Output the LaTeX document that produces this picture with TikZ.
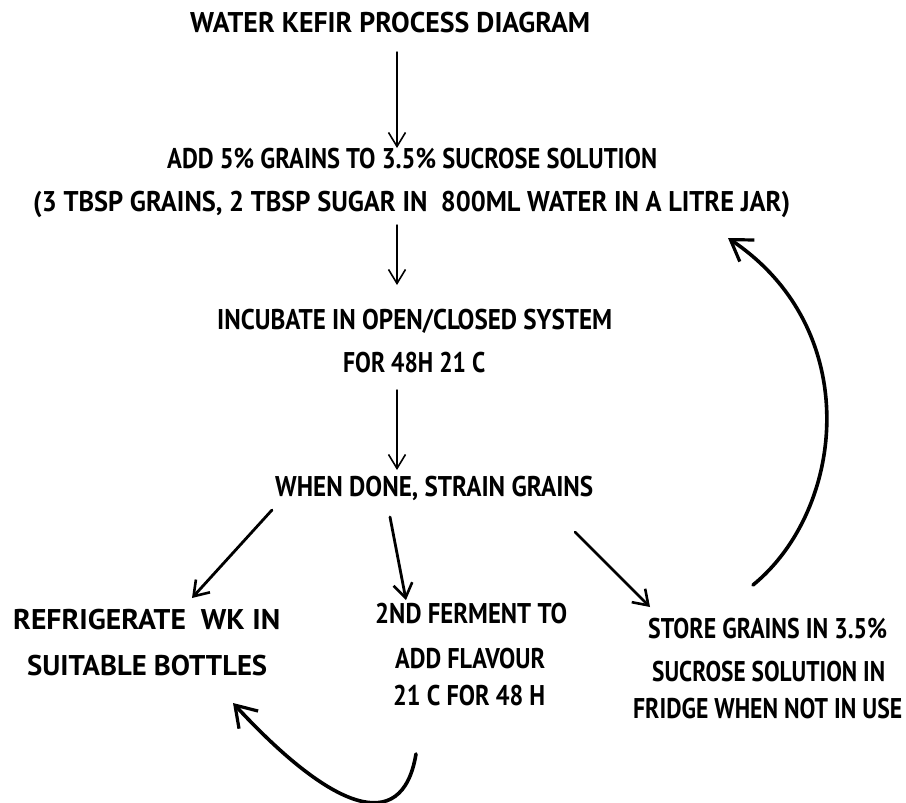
\documentclass[tikz,border=0pt]{standalone}
\usepackage{fontspec}
\usepackage{graphicx}
\newfontfamily\hand{PT Sans Bold}
\newcommand\fw[2]{\resizebox{#1pt}{\height}{#2}}
\usetikzlibrary{arrows.meta}
\begin{document}
\begin{tikzpicture}[x=1pt,y=-1pt,line cap=round,
  lbl/.style={font=\hand\fontsize{28.5}{30}\selectfont, inner sep=0pt, anchor=base west, text=black},
  thinarrow/.style={line width=1.4pt, -{Straight Barb[length=14pt,width=17pt,line width=1.6pt]}},
  midarrow/.style={line width=2.8pt, -{Straight Barb[length=14pt,width=19pt,line width=2.6pt]}},
  bigarrow/.style={line width=3.6pt, -{Straight Barb[length=20pt,width=26pt,line width=3.2pt]}}]
\path[fill=white] (0,0) rectangle (906,803);
\useasboundingbox (0,0) rectangle (906,803);

\node[lbl] (title) at (190,32) {\fw{400}{WATER KEFIR PROCESS DIAGRAM}};
\node[lbl] (add) at (167,168) {\fw{490}{ADD 5\% GRAINS TO 3.5\% SUCROSE SOLUTION}};
\node[lbl] (paren) at (33,211) {\fw{757}{(3 TBSP GRAINS, 2 TBSP SUGAR IN\ \ 800ML WATER IN A LITRE JAR)}};
\node[lbl] (incubate) at (217,329) {\fw{395}{INCUBATE IN OPEN/CLOSED SYSTEM}};
\node[lbl] (for48) at (343,372) {\fw{142}{FOR 48H 21 C}};
\node[lbl] (strain) at (275,496) {\fw{318}{WHEN DONE, STRAIN GRAINS}};
\node[lbl] (refrig) at (13,629) {\fw{267}{REFRIGERATE\ \ WK IN}};
\node[lbl] (bottles) at (27,675) {\fw{240}{SUITABLE BOTTLES}};
\node[lbl] (second) at (375,623) {\fw{192}{2ND FERMENT TO}};
\node[lbl] (flavour) at (395,668) {\fw{150}{ADD FLAVOUR}};
\node[lbl] (temp) at (393,705) {\fw{152}{21 C FOR 48 H}};
\node[lbl] (store) at (648,638) {\fw{239}{STORE GRAINS IN 3.5\%}};
\node[lbl] (sucrose) at (652,681) {\fw{233}{SUCROSE SOLUTION IN}};
\node[lbl] (fridge) at (633,718) {\fw{269}{FRIDGE WHEN NOT IN USE}};

\coordinate (a1s) at (397,52);  \coordinate (a1e) at (397,148);
\coordinate (a2s) at (397,225); \coordinate (a2e) at (397,285);
\coordinate (a3s) at (397,390); \coordinate (a3e) at (397,470);
\coordinate (l1s) at (272,510); \coordinate (l1e) at (192,598);
\coordinate (m1s) at (390,517); \coordinate (m1e) at (406,600);
\coordinate (r1s) at (575,532); \coordinate (r1e) at (650,607);
\coordinate (rcs) at (753,585); \coordinate (rce) at (728,238);
\coordinate (bcs) at (416,754); \coordinate (bce) at (233,703);

\draw[thinarrow] (a1s) -- (a1e);
\draw[thinarrow] (a2s) -- (a2e);
\draw[thinarrow] (a3s) -- (a3e);
\draw[midarrow] (l1s) -- (l1e);
\draw[midarrow] (m1s) -- (m1e);
\draw[midarrow] (r1s) -- (r1e);
\draw[bigarrow] (rcs) .. controls (845,510) and (865,330) .. (rce);
\draw[bigarrow] (bcs) .. controls (402,838) and (330,808) .. (bce);
\end{tikzpicture}
\end{document}
